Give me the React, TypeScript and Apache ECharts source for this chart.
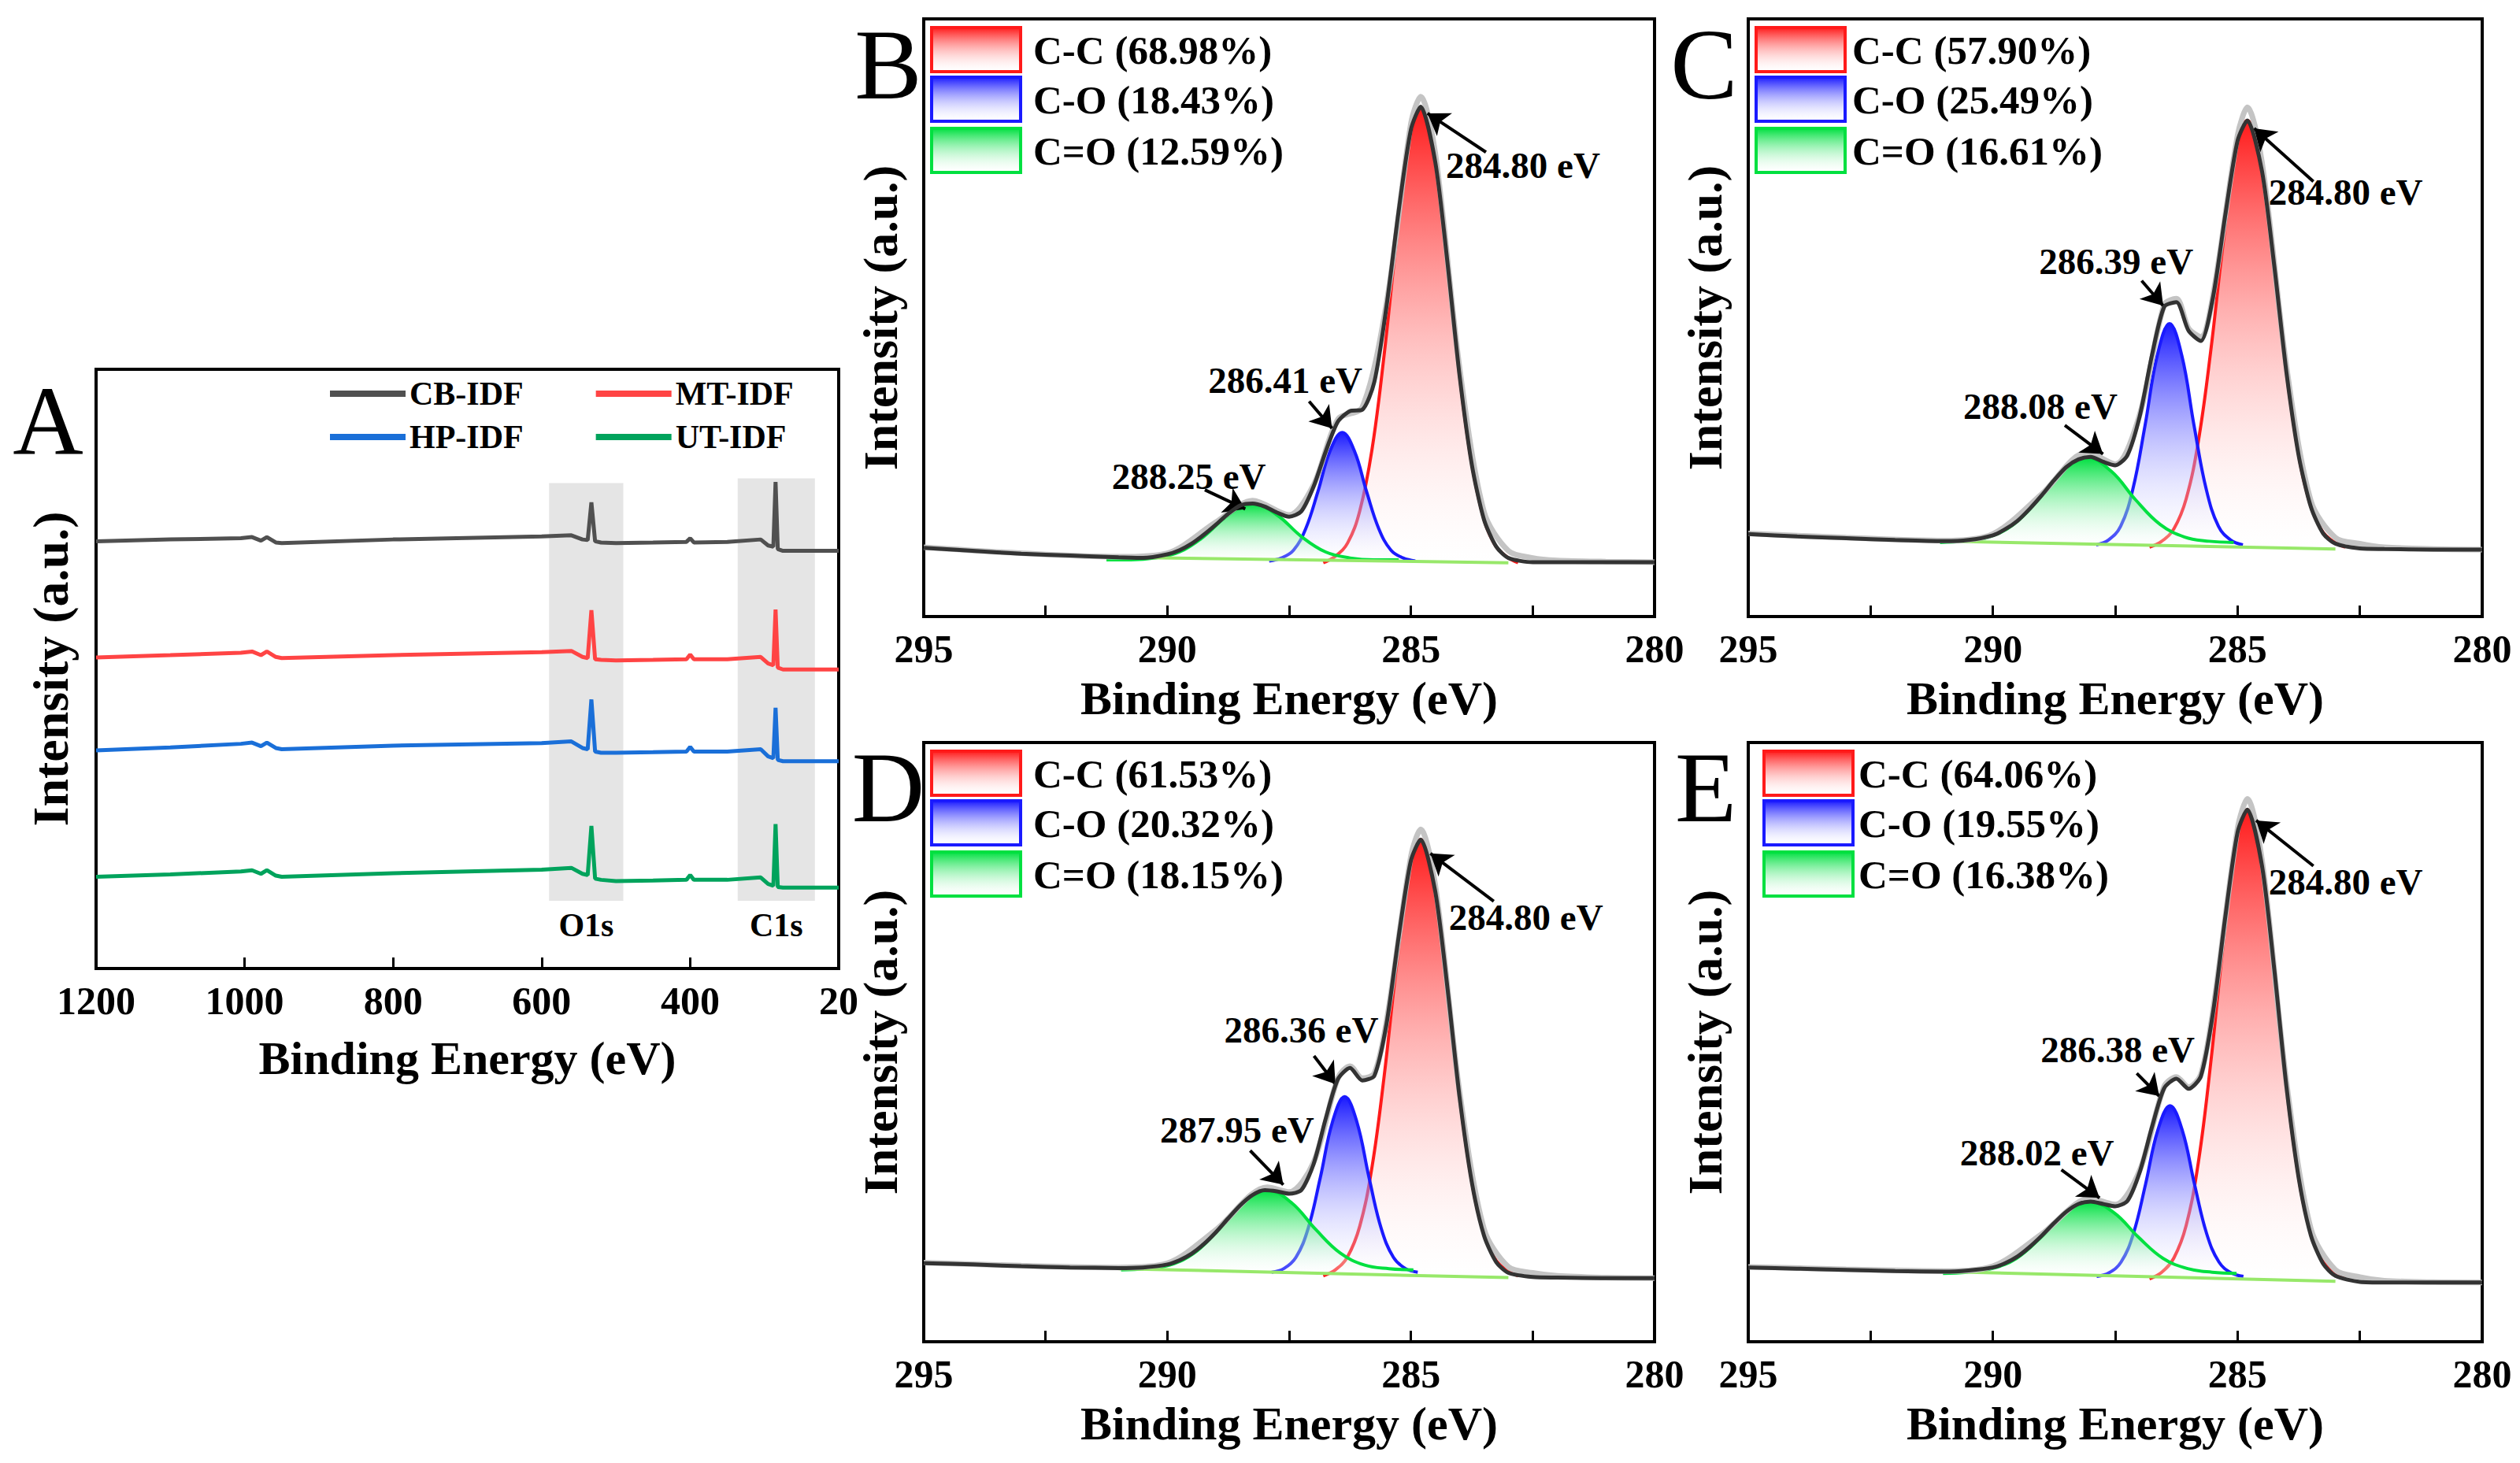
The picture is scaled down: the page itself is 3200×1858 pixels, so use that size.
import React, { useEffect, useRef } from "react";
import * as echarts from "echarts";

const FONT = "Liberation Serif";

// ---- panel A: survey spectra ----
const surveyX = [1200, 1100, 1005, 990, 978, 970, 958, 950, 800, 600, 560, 545, 538, 533, 528, 520, 500, 450, 405, 400, 395, 350, 305, 295, 288, 285, 282, 275, 250, 200];
const cbIdf = [71.3, 71.6, 71.8, 72.0, 71.4, 72.0, 71.1, 71.0, 71.6, 72.1, 72.3, 71.6, 71.5, 77.8, 71.3, 71.1, 71.0, 71.1, 71.2, 71.8, 71.1, 71.2, 71.6, 70.6, 70.4, 81.2, 70.0, 69.7, 69.7, 69.7];
const mtIdf = [51.9, 52.3, 52.7, 52.9, 52.3, 52.9, 52.0, 51.8, 52.3, 52.8, 53.0, 52.0, 51.8, 59.8, 51.6, 51.5, 51.4, 51.5, 51.6, 52.4, 51.6, 51.6, 52.0, 50.9, 50.6, 59.9, 50.2, 49.9, 49.9, 49.9];
const hpIdf = [36.4, 36.9, 37.5, 37.7, 37.1, 37.7, 36.8, 36.6, 37.2, 37.6, 37.9, 36.8, 36.6, 44.9, 36.2, 36.0, 36.0, 36.1, 36.2, 37.0, 36.2, 36.2, 36.6, 35.4, 35.1, 43.5, 34.8, 34.6, 34.6, 34.6];
const utIdf = [15.3, 15.7, 16.2, 16.4, 15.8, 16.4, 15.5, 15.3, 15.9, 16.5, 16.8, 15.8, 15.6, 23.8, 15.0, 14.8, 14.6, 14.7, 14.8, 15.6, 14.8, 14.8, 15.2, 14.1, 13.8, 24.1, 13.6, 13.5, 13.5, 13.5];
const surveyNames = ["CB-IDF", "MT-IDF", "HP-IDF", "UT-IDF"];
const surveyColors = ["#505050", "#ff4444", "#1a6fd8", "#00a35c"];

// ---- C1s panels ----
const envB = [[295, 11.5], [294, 11], [293, 10.5], [292, 10.2], [291, 9.9], [290.5, 9.8], [290, 10.4], [289.75, 11.1], [289.5, 12.2], [289.25, 13.7], [289, 15.4], [288.75, 17.2], [288.5, 18.6], [288.25, 18.9], [288, 18.4], [287.75, 17.4], [287.5, 16.7], [287.25, 17.6], [287, 21.7], [286.75, 27.6], [286.5, 32.6], [286.25, 34.4], [286, 34.6], [285.75, 39.3], [285.5, 52], [285.25, 68], [285, 81.5], [284.8, 85.3], [284.5, 76], [284.25, 59.2], [284, 40.2], [283.75, 25.4], [283.5, 16.2], [283.25, 11.7], [283, 9.8], [282.5, 9.1], [282, 9.1], [281, 9.1], [280, 9.1]];
const rawB = [[295, 11.6], [293, 10.6], [291, 10], [290, 10.6], [289, 15.8], [288.25, 19.4], [287.5, 17], [287, 22], [286.5, 33], [286, 35], [285.5, 52.5], [285, 82.5], [284.8, 87], [284.5, 77.5], [284, 41.5], [283.5, 17.5], [283, 11], [282.5, 9.8], [282, 9.4], [281, 9.2], [280, 9.1]];
const ccB = [[282.8, 9], [283.05, 10.1], [283.3, 12.3], [283.55, 17.7], [283.8, 27.9], [284.05, 43.8], [284.3, 62.7], [284.55, 78.7], [284.8, 85], [285.05, 78.7], [285.3, 62.7], [285.55, 43.8], [285.8, 27.9], [286.05, 17.7], [286.3, 12.3], [286.55, 10.1], [286.8, 9]];
const coB = [[284.91, 9.3], [285.16, 9.8], [285.41, 11.1], [285.66, 14.7], [285.91, 20.9], [286.16, 27.7], [286.41, 30.8], [286.66, 27.7], [286.91, 20.9], [287.16, 14.7], [287.41, 11.1], [287.66, 9.8], [287.91, 9.3]];
const cdoB = [[285.25, 9.5], [285.75, 9.5], [286.25, 9.8], [286.75, 10.8], [287.25, 13.4], [287.75, 17], [288.25, 18.9], [288.75, 17], [289.25, 13.4], [289.75, 10.8], [290.25, 9.8], [290.75, 9.5], [291.25, 9.5]];
const baseB = [[291, 9.9], [283, 9.0]];

const envC = [[295, 13.8], [294, 13.4], [293, 13.1], [292, 12.8], [291, 12.6], [290.5, 12.8], [290, 13.6], [289.75, 14.6], [289.5, 16], [289.25, 18], [289, 20.3], [288.75, 22.8], [288.5, 25], [288.25, 26.3], [288, 26.7], [287.75, 25.9], [287.5, 25.3], [287.25, 27], [287, 33.5], [286.75, 43.7], [286.5, 51.8], [286.25, 52.6], [286, 47.8], [285.75, 46.1], [285.5, 53.5], [285.25, 67.2], [285, 79.6], [284.8, 83], [284.5, 74.5], [284.25, 58.7], [284, 40.8], [283.75, 26.9], [283.5, 18.3], [283.25, 13.9], [283, 12.2], [282.5, 11.4], [282, 11.3], [281, 11.2], [280, 11.2]];
const rawC = [[295, 13.9], [293, 13.2], [291, 12.7], [290, 13.8], [289, 20.5], [288.08, 27.5], [287.5, 25.5], [287, 33.8], [286.5, 52.2], [286.25, 53.2], [286, 48.2], [285.75, 46.8], [285.5, 53.8], [285, 80.5], [284.8, 85.2], [284.5, 76], [284, 41.8], [283.5, 19.3], [283, 13.2], [282.5, 12.2], [282, 11.6], [281, 11.3], [280, 11.2]];
const ccC = [[282.8, 11.6], [283.05, 12.6], [283.3, 14.7], [283.55, 19.7], [283.8, 29.4], [284.05, 44.3], [284.3, 62.1], [284.55, 77.1], [284.8, 83], [285.05, 77.1], [285.3, 62.1], [285.55, 44.3], [285.8, 29.4], [286.05, 19.7], [286.3, 14.7], [286.55, 12.6], [286.8, 11.6]];
const coC = [[284.89, 12], [285.14, 12.8], [285.39, 15.1], [285.64, 21.3], [285.89, 32], [286.14, 43.7], [286.39, 49], [286.64, 43.7], [286.89, 32], [287.14, 21.3], [287.39, 15.1], [287.64, 12.8], [287.89, 12]];
const cdoC = [[285.08, 12.4], [285.58, 12.6], [286.08, 13.3], [286.58, 15.4], [287.08, 19.5], [287.58, 24.3], [288.08, 26.6], [288.58, 24.3], [289.08, 19.5], [289.58, 15.4], [290.08, 13.3], [290.58, 12.6], [291.08, 12.4]];
const baseC = [[291, 12.6], [283, 11.3]];

const envD = [[295, 13.1], [294, 12.9], [293, 12.6], [292, 12.4], [291, 12.3], [290.5, 12.4], [290, 12.9], [289.75, 13.6], [289.5, 14.7], [289.25, 16.3], [289, 18.3], [288.75, 20.6], [288.5, 22.8], [288.25, 24.5], [288, 25.3], [287.75, 25.1], [287.5, 24.7], [287.25, 25.3], [287, 29.6], [286.75, 37.2], [286.5, 43.8], [286.25, 45.7], [286, 43.6], [285.75, 44.4], [285.5, 53.1], [285.25, 67.7], [285, 80.3], [284.8, 83.8], [284.5, 75.1], [284.25, 59], [284, 40.7], [283.75, 26.6], [283.5, 17.7], [283.25, 13.3], [283, 11.5], [282.5, 10.8], [282, 10.7], [281, 10.6], [280, 10.6]];
const rawD = [[295, 13.2], [293, 12.7], [291, 12.4], [290, 13.1], [289, 18.7], [287.95, 25.8], [287.5, 25], [287, 29.9], [286.5, 44], [286.25, 46], [286, 44], [285.75, 44.8], [285.5, 53.5], [285, 81], [284.8, 85.5], [284.5, 76.2], [284, 41.6], [283.5, 18.8], [283, 12.5], [282.5, 11.5], [282, 11], [281, 10.7], [280, 10.6]];
const ccD = [[282.8, 11], [283.05, 12], [283.3, 14.2], [283.55, 19.3], [283.8, 29.1], [284.05, 44.3], [284.3, 62.5], [284.55, 77.8], [284.8, 83.8], [285.05, 77.8], [285.3, 62.5], [285.55, 44.3], [285.8, 29.1], [286.05, 19.3], [286.3, 14.2], [286.55, 12], [286.8, 11]];
const coD = [[284.86, 11.6], [285.11, 12.2], [285.36, 14.1], [285.61, 18.9], [285.86, 27.4], [286.11, 36.7], [286.36, 40.9], [286.61, 36.7], [286.86, 27.4], [287.11, 18.9], [287.36, 14.1], [287.61, 12.2], [287.86, 11.6]];
const cdoD = [[284.95, 12], [285.45, 12.2], [285.95, 12.8], [286.45, 14.8], [286.95, 18.7], [287.45, 23.2], [287.95, 25.3], [288.45, 23.2], [288.95, 18.7], [289.45, 14.8], [289.95, 12.8], [290.45, 12.2], [290.95, 12]];
const baseD = [[291, 12.2], [283, 10.7]];

const envE = [[295, 12.4], [294, 12.2], [293, 12], [292, 11.8], [291, 11.7], [290.5, 11.9], [290, 12.4], [289.75, 13.1], [289.5, 14.2], [289.25, 15.8], [289, 17.7], [288.75, 19.8], [288.5, 21.7], [288.25, 23], [288, 23.4], [287.75, 23], [287.5, 22.6], [287.25, 23.5], [287, 28.3], [286.75, 35.8], [286.5, 42.3], [286.25, 43.9], [286, 42.2], [285.75, 44.3], [285.5, 55], [285.25, 70.9], [285, 85], [284.8, 88.8], [284.5, 79.4], [284.25, 62.2], [284, 42.5], [283.75, 27.3], [283.5, 17.7], [283.25, 13], [283, 11], [282.5, 10], [282, 9.9], [281, 9.9], [280, 9.9]];
const rawE = [[295, 12.5], [293, 12.1], [291, 11.8], [290, 12.6], [289, 18], [288.02, 23.9], [287.5, 22.9], [287, 28.6], [286.5, 42.6], [286.25, 44.2], [286, 42.5], [285.75, 44.6], [285.5, 55.4], [285, 85.6], [284.8, 90.6], [284.5, 80.4], [284, 43.3], [283.5, 18.8], [283, 12], [282.5, 10.8], [282, 10.2], [281, 9.95], [280, 9.9]];
const ccE = [[282.8, 10.5], [283.05, 11.6], [283.3, 14], [283.55, 19.4], [283.8, 30], [284.05, 46.4], [284.3, 65.9], [284.55, 82.3], [284.8, 88.8], [285.05, 82.3], [285.3, 65.9], [285.55, 46.4], [285.8, 30], [286.05, 19.4], [286.3, 14], [286.55, 11.6], [286.8, 10.5]];
const coE = [[284.88, 10.9], [285.13, 11.5], [285.38, 13.3], [285.63, 18], [285.88, 26.3], [286.13, 35.3], [286.38, 39.4], [286.63, 35.3], [286.88, 26.3], [287.13, 18], [287.38, 13.3], [287.63, 11.5], [287.88, 10.9]];
const cdoE = [[285.02, 11.4], [285.52, 11.6], [286.02, 12.2], [286.52, 13.9], [287.02, 17.4], [287.52, 21.5], [288.02, 23.4], [288.52, 21.5], [289.02, 17.4], [289.52, 13.9], [290.02, 12.2], [290.52, 11.6], [291.02, 11.4]];
const baseE = [[291, 11.7], [283, 10.1]];

const shareB = ["C-C (68.98%)", "C-O (18.43%)", "C=O (12.59%)"];
const shareC = ["C-C (57.90%)", "C-O (25.49%)", "C=O (16.61%)"];
const shareD = ["C-C (61.53%)", "C-O (20.32%)", "C=O (18.15%)"];
const shareE = ["C-C (64.06%)", "C-O (19.55%)", "C=O (16.38%)"];

const peakB = ["284.80 eV", "286.41 eV", "288.25 eV"];
const peakC = ["284.80 eV", "286.39 eV", "288.08 eV"];
const peakD = ["284.80 eV", "286.36 eV", "287.95 eV"];
const peakE = ["284.80 eV", "286.38 eV", "288.02 eV"];

// layout of annotation texts / arrows (data coords)
const annPosB = [{ at: [282.7, 75.5], from: [283.46, 77.7], to: [284.66, 84.2] }, { at: [287.58, 39.5], from: [287.09, 36], to: [286.62, 31.5] }, { at: [289.56, 23.4], from: [289.23, 21.2], to: [288.4, 18] }];
const annPosC = [{ at: [282.79, 71], from: [283.45, 72.8], to: [284.66, 81.7] }, { at: [287.48, 59.4], from: [286.96, 56.2], to: [286.52, 52] }, { at: [289.03, 35.2], from: [288.53, 32], to: [287.75, 27.2] }];
const annPosD = [{ at: [282.64, 70.8], from: [283.3, 73.5], to: [284.6, 81.5] }, { at: [287.25, 52], from: [286.99, 47.7], to: [286.55, 43] }, { at: [288.57, 35.4], from: [288.3, 31.9], to: [287.62, 26.2] }];
const annPosE = [{ at: [282.79, 76.7], from: [283.45, 79.4], to: [284.62, 87] }, { at: [287.45, 48.8], from: [287.06, 44.8], to: [286.6, 41] }, { at: [289.1, 31.6], from: [288.6, 28.7], to: [287.82, 24] }];

const grad = (c: string) =>
  new echarts.graphic.LinearGradient(0, 0, 0, 1, [
    { offset: 0, color: c },
    { offset: 1, color: "rgba(255,255,255,0.15)" },
  ]);

const RED = "#ff1a1a";
const BLUE = "#1a1aff";
const GREEN = "#00e040";

const panels = [
  { letter: "B", grid: { left: 1173, top: 24, width: 928, height: 759 }, env: envB, raw: rawB, cc: ccB, co: coB, cdo: cdoB, base: baseB, share: shareB, peaks: peakB, ann: annPosB, origin: 9.2, legX: 1183, txtX: 1312, letterPos: [1128, 82] },
  { letter: "C", grid: { left: 2220, top: 24, width: 932, height: 759 }, env: envC, raw: rawC, cc: ccC, co: coC, cdo: cdoC, base: baseC, share: shareC, peaks: peakC, ann: annPosC, origin: 11.8, legX: 2230, txtX: 2352, letterPos: [2164, 82] },
  { letter: "D", grid: { left: 1173, top: 943, width: 928, height: 761 }, env: envD, raw: rawD, cc: ccD, co: coD, cdo: cdoD, base: baseD, share: shareD, peaks: peakD, ann: annPosD, origin: 11.4, legX: 1183, txtX: 1312, letterPos: [1128, 1000] },
  { letter: "E", grid: { left: 2220, top: 943, width: 932, height: 761 }, env: envE, raw: rawE, cc: ccE, co: coE, cdo: cdoE, base: baseE, share: shareE, peaks: peakE, ann: annPosE, origin: 10.9, legX: 2240, txtX: 2360, letterPos: [2166, 1000] },
];

const axisName = { fontFamily: FONT, fontWeight: "bold" as const, fontSize: 60, color: "#000" };
const tickText = { fontFamily: FONT, fontWeight: "bold" as const, fontSize: 50, color: "#000", margin: 16 };

const App: React.FC = () => {
  const ref = useRef<HTMLDivElement>(null);

  useEffect(() => {
    document.body.style.margin = "0";
    if (!ref.current) return;
    const chart = echarts.init(ref.current, undefined, { renderer: "svg" });

    const grids: any[] = [{ left: 122, top: 469, width: 943, height: 761 }];
    const xAxes: any[] = [
      {
        type: "value", gridIndex: 0, min: 200, max: 1200, interval: 200, inverse: true,
        axisLine: { show: false }, splitLine: { show: false },
        axisTick: { inside: true, length: 14, lineStyle: { color: "#000", width: 3 } },
        axisLabel: { ...tickText, formatter: (v: number) => (v === 200 ? "20" : String(v)) },
        name: "Binding Energy (eV)", nameLocation: "middle", nameGap: 84, nameTextStyle: axisName,
      },
    ];
    const yAxes: any[] = [
      {
        type: "value", gridIndex: 0, min: 0, max: 100,
        axisLine: { show: false }, axisTick: { show: false }, axisLabel: { show: false }, splitLine: { show: false },
        name: "Intensity (a.u.)", nameLocation: "middle", nameGap: 26, nameTextStyle: { ...axisName, fontSize: 64 },
      },
    ];
    const series: any[] = [];
    const surveyData = [cbIdf, mtIdf, hpIdf, utIdf];
    surveyData.forEach((ys, i) => {
      series.push({
        type: "line", name: surveyNames[i], xAxisIndex: 0, yAxisIndex: 0, symbol: "none",
        lineStyle: { color: surveyColors[i], width: 5 }, itemStyle: { color: surveyColors[i] },
        data: surveyX.map((x, j) => [x, ys[j]]), z: 5,
        ...(i === 0
          ? {
              markArea: {
                silent: true,
                itemStyle: { color: "rgba(190,190,190,0.4)" },
                label: { show: true, position: "bottom", distance: 10, fontFamily: FONT, fontWeight: "bold", fontSize: 42, color: "#000" },
                data: [
                  [{ name: "O1s", xAxis: 590, yAxis: 81 }, { xAxis: 490, yAxis: 11.3 }],
                  [{ name: "C1s", xAxis: 336, yAxis: 81.8 }, { xAxis: 232, yAxis: 11.3 }],
                ],
              },
            }
          : {}),
      });
    });

    const graphic: any[] = [
      { type: "text", x: 61, y: 535, style: { text: "A", font: `124px "${FONT}"`, fill: "#000", align: "center", verticalAlign: "middle" } },
    ];

    panels.forEach((p, k) => {
      const gi = k + 1;
      grids.push(p.grid);
      xAxes.push({
        type: "value", gridIndex: gi, min: 280, max: 295, interval: 2.5, inverse: true,
        axisLine: { show: false }, splitLine: { show: false },
        axisTick: { inside: true, length: 14, lineStyle: { color: "#000", width: 3 } },
        axisLabel: { ...tickText, formatter: (v: number) => (v % 5 === 0 ? String(v) : "") },
        name: "Binding Energy (eV)", nameLocation: "middle", nameGap: 74, nameTextStyle: axisName,
      });
      yAxes.push({
        type: "value", gridIndex: gi, min: 0, max: 100,
        axisLine: { show: false }, axisTick: { show: false }, axisLabel: { show: false }, splitLine: { show: false },
        name: "Intensity (a.u.)", nameLocation: "middle", nameGap: 24, nameTextStyle: { ...axisName, fontSize: 62 },
      });
      const comps = [
        { d: p.cc, c: RED },
        { d: p.co, c: BLUE },
        { d: p.cdo, c: GREEN },
      ];
      comps.forEach((cmp, ci) => {
        series.push({
          type: "line", name: p.share[ci], xAxisIndex: gi, yAxisIndex: gi, symbol: "none", smooth: 0.4,
          lineStyle: { color: cmp.c, width: 4 }, areaStyle: { color: grad(cmp.c), origin: p.origin, opacity: 1 },
          data: cmp.d, z: 3 + ci * 0.1,
        });
      });
      series.push({ type: "line", xAxisIndex: gi, yAxisIndex: gi, symbol: "none", lineStyle: { color: "#98e86a", width: 4 }, data: p.base, z: 3.5 });
      series.push({ type: "line", xAxisIndex: gi, yAxisIndex: gi, symbol: "none", smooth: 0.3, lineStyle: { color: "#c4c4c4", width: 7 }, data: p.raw, z: 4 });
      series.push({
        type: "line", xAxisIndex: gi, yAxisIndex: gi, symbol: "none", smooth: 0.25,
        lineStyle: { color: "#333", width: 5 }, data: p.env, z: 5,
        markLine: {
          silent: true, symbol: ["none", "arrow"], symbolSize: 26,
          lineStyle: { color: "#000", width: 4, type: "solid" }, label: { show: false },
          data: p.ann.map((a) => [{ coord: a.from }, { coord: a.to }]),
        },
        markPoint: {
          silent: true, symbol: "circle", symbolSize: 0,
          label: { show: true, position: "inside", fontFamily: FONT, fontWeight: "bold", fontSize: 47, color: "#000", formatter: (q: any) => q.name },
          data: p.ann.map((a, i) => ({ name: p.peaks[i], coord: a.at })),
        },
      });

      graphic.push({ type: "text", x: p.letterPos[0], y: p.letterPos[1], style: { text: p.letter, font: `128px "${FONT}"`, fill: "#000", align: "center", verticalAlign: "middle" } });
      const ys = [35, 98, 163].map((y) => y + p.grid.top - 24);
      [RED, BLUE, GREEN].forEach((c, i) => {
        graphic.push({ type: "rect", shape: { x: p.legX, y: ys[i], width: 113, height: 56 }, style: { fill: grad(c), stroke: c, lineWidth: 4 }, z: 10 });
        graphic.push({ type: "text", x: p.txtX, y: ys[i] + 29, style: { text: p.share[i], font: `bold 51px "${FONT}"`, fill: "#000", verticalAlign: "middle" }, z: 10 });
      });
    });

    const legText = { fontFamily: FONT, fontWeight: "bold" as const, fontSize: 42, color: "#000" };
    chart.setOption({
      animation: false,
      grid: grids.map((g) => ({ ...g, show: true, borderColor: "#000", borderWidth: 4, backgroundColor: "transparent" })),
      xAxis: xAxes,
      yAxis: yAxes,
      legend: [
        { left: 414, top: 474, data: surveyNames.slice(0, 2), icon: "rect", itemWidth: 96, itemHeight: 8, itemGap: 92, selectedMode: false, textStyle: legText },
        { left: 414, top: 529, data: surveyNames.slice(2), icon: "rect", itemWidth: 96, itemHeight: 8, itemGap: 92, selectedMode: false, textStyle: legText },
      ],
      graphic,
      series,
    });
    return () => chart.dispose();
  }, []);

  return <div ref={ref} style={{ width: 3200, height: 1858 }} />;
};

export default App;
